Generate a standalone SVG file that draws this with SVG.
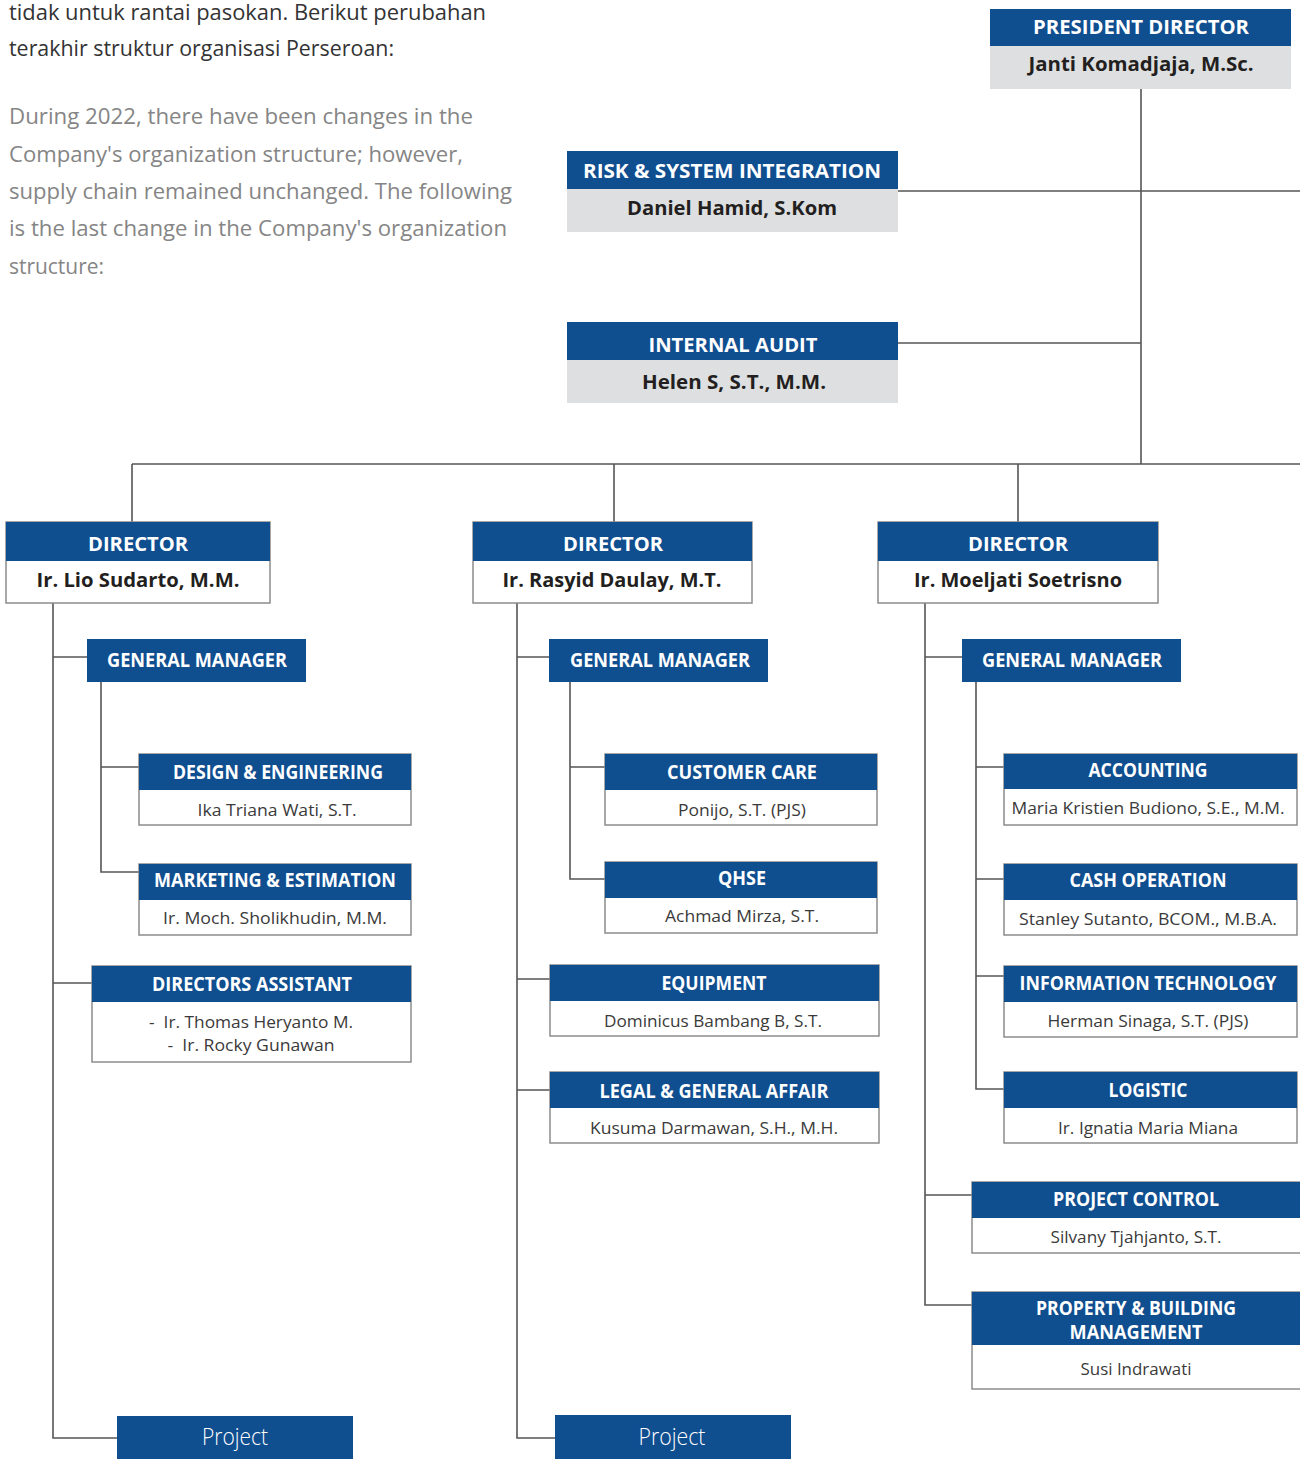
<svg xmlns="http://www.w3.org/2000/svg" width="1300" height="1459" viewBox="0 0 1300 1459">
<style>
.hd{fill:#0f4e8f}
.gb{fill:#dedfe1}
.wb{fill:#fff;stroke:#8c8c8c;stroke-width:1.5}
.ht{font-family:"Open Sans","Liberation Sans",sans-serif;font-weight:700;font-size:19px;fill:#fff;text-anchor:middle}
.nb{font-family:"Open Sans","Liberation Sans",sans-serif;font-weight:700;font-size:20px;fill:#231f20;text-anchor:middle}
.nt{font-family:"Open Sans","Liberation Sans",sans-serif;font-size:17px;fill:#3a3a3a;text-anchor:middle}
.pj{font-family:"Open Sans","Liberation Sans",sans-serif;font-weight:300;font-size:23px;fill:#fff;text-anchor:middle}
.p1{font-family:"Open Sans","Liberation Sans",sans-serif;font-size:22px;fill:#333}
.p2{font-family:"Open Sans","Liberation Sans",sans-serif;font-size:22px;fill:#858585}
.cn{fill:none;stroke:#555;stroke-width:1.6}
</style>
<rect width="1300" height="1459" fill="#fff"/>
<g id="intro">
<text class="p1" x="9" y="20" textLength="477" lengthAdjust="spacingAndGlyphs">tidak untuk rantai pasokan. Berikut perubahan</text>
<text class="p1" x="9" y="56" textLength="385" lengthAdjust="spacingAndGlyphs">terakhir struktur organisasi Perseroan:</text>
<text class="p2" x="9" y="124" textLength="464" lengthAdjust="spacingAndGlyphs">During 2022, there have been changes in the</text>
<text class="p2" x="9" y="162" textLength="454" lengthAdjust="spacingAndGlyphs">Company's organization structure; however,</text>
<text class="p2" x="9" y="199" textLength="503" lengthAdjust="spacingAndGlyphs">supply chain remained unchanged. The following</text>
<text class="p2" x="9" y="236" textLength="498" lengthAdjust="spacingAndGlyphs">is the last change in the Company's organization</text>
<text class="p2" x="9" y="274" textLength="95" lengthAdjust="spacingAndGlyphs">structure:</text>
</g>
<g id="connectors">
<path class="cn" d="M1141 89V464M898 191H1300M898 343H1141M132 464H1300M132 464V522M614 464V522M1018 464V522"/>
<path class="cn" d="M53 603V1438H117M53 657H87M101 682V872H139M101 767H139M53 983H92"/>
<path class="cn" d="M517 603V1438H555M517 657H549M570 682V879H605M570 767H605M517 979H550M517 1090H550"/>
<path class="cn" d="M925 603V1305H972M925 657H962M976 682V1089H1004M976 767H1004M976 879H1004M976 976H1004M925 1195H972"/>
</g>
<g id="president">
<rect class="hd" x="990" y="9" width="301" height="37"/><rect class="gb" x="990" y="46" width="301" height="43"/>
<text class="ht" x="1141" y="34" textLength="216" lengthAdjust="spacingAndGlyphs">PRESIDENT DIRECTOR</text>
<text class="nb" x="1141" y="71" textLength="225" lengthAdjust="spacingAndGlyphs">Janti Komadjaja, M.Sc.</text>
</g>
<g id="risk">
<rect class="hd" x="567" y="151" width="331" height="38"/><rect class="gb" x="567" y="189" width="331" height="43"/>
<text class="ht" x="732" y="178" textLength="298" lengthAdjust="spacingAndGlyphs">RISK &amp; SYSTEM INTEGRATION</text>
<text class="nb" x="732" y="215" textLength="210" lengthAdjust="spacingAndGlyphs">Daniel Hamid, S.Kom</text>
</g>
<g id="audit">
<rect class="hd" x="567" y="322" width="331" height="38"/><rect class="gb" x="567" y="360" width="331" height="43"/>
<text class="ht" x="733" y="352" textLength="169" lengthAdjust="spacingAndGlyphs">INTERNAL AUDIT</text>
<text class="nb" x="734" y="389" textLength="184" lengthAdjust="spacingAndGlyphs">Helen S, S.T., M.M.</text>
</g>
<g id="director1">
<rect class="wb" x="6" y="522" width="264" height="81"/><rect class="hd" x="6" y="522" width="264" height="39"/>
<text class="ht" x="138" y="551" textLength="100" lengthAdjust="spacingAndGlyphs">DIRECTOR</text>
<text class="nb" x="138" y="587" textLength="203" lengthAdjust="spacingAndGlyphs">Ir. Lio Sudarto, M.M.</text>
</g>
<g id="director2">
<rect class="wb" x="473" y="522" width="279" height="81"/><rect class="hd" x="473" y="522" width="279" height="39"/>
<text class="ht" x="613" y="551" textLength="100" lengthAdjust="spacingAndGlyphs">DIRECTOR</text>
<text class="nb" x="612" y="587" textLength="219" lengthAdjust="spacingAndGlyphs">Ir. Rasyid Daulay, M.T.</text>
</g>
<g id="director3">
<rect class="wb" x="878" y="522" width="280" height="81"/><rect class="hd" x="878" y="522" width="280" height="39"/>
<text class="ht" x="1018" y="551" textLength="100" lengthAdjust="spacingAndGlyphs">DIRECTOR</text>
<text class="nb" x="1018" y="587" textLength="208" lengthAdjust="spacingAndGlyphs">Ir. Moeljati Soetrisno</text>
</g>
<g id="gm1"><rect class="hd" x="87" y="639" width="219" height="43"/><text class="ht" x="197" y="667" font-size="18" textLength="180" lengthAdjust="spacingAndGlyphs">GENERAL MANAGER</text></g>
<g id="gm2"><rect class="hd" x="549" y="639" width="219" height="43"/><text class="ht" x="660" y="667" font-size="18" textLength="180" lengthAdjust="spacingAndGlyphs">GENERAL MANAGER</text></g>
<g id="gm3"><rect class="hd" x="962" y="639" width="219" height="43"/><text class="ht" x="1072" y="667" font-size="18" textLength="180" lengthAdjust="spacingAndGlyphs">GENERAL MANAGER</text></g>
<g id="design">
<rect class="wb" x="139" y="754" width="272" height="71"/><rect class="hd" x="139" y="754" width="272" height="36"/>
<text class="ht" x="278" y="779" font-size="18" textLength="210" lengthAdjust="spacingAndGlyphs">DESIGN &amp; ENGINEERING</text>
<text class="nt" x="277" y="816" textLength="159" lengthAdjust="spacingAndGlyphs">Ika Triana Wati, S.T.</text>
</g>
<g id="marketing">
<rect class="wb" x="139" y="864" width="272" height="71"/><rect class="hd" x="139" y="864" width="272" height="36"/>
<text class="ht" x="275" y="887" font-size="18" textLength="242" lengthAdjust="spacingAndGlyphs">MARKETING &amp; ESTIMATION</text>
<text class="nt" x="275" y="924" textLength="224" lengthAdjust="spacingAndGlyphs">Ir. Moch. Sholikhudin, M.M.</text>
</g>
<g id="assistant">
<rect class="wb" x="92" y="966" width="319" height="96"/><rect class="hd" x="92" y="966" width="319" height="36"/>
<text class="ht" x="252" y="991" font-size="18" textLength="200" lengthAdjust="spacingAndGlyphs">DIRECTORS ASSISTANT</text>
<text class="nt" x="251" y="1028" textLength="204" lengthAdjust="spacingAndGlyphs">-&#160; Ir. Thomas Heryanto M.</text>
<text class="nt" x="251" y="1051" textLength="167" lengthAdjust="spacingAndGlyphs">-&#160; Ir. Rocky Gunawan</text>
</g>
<g id="customer">
<rect class="wb" x="605" y="754" width="272" height="71"/><rect class="hd" x="605" y="754" width="272" height="36"/>
<text class="ht" x="742" y="779" font-size="18" textLength="150" lengthAdjust="spacingAndGlyphs">CUSTOMER CARE</text>
<text class="nt" x="742" y="816" textLength="128" lengthAdjust="spacingAndGlyphs">Ponijo, S.T. (PJS)</text>
</g>
<g id="qhse">
<rect class="wb" x="605" y="862" width="272" height="71"/><rect class="hd" x="605" y="862" width="272" height="36"/>
<text class="ht" x="742" y="885" font-size="18" textLength="48" lengthAdjust="spacingAndGlyphs">QHSE</text>
<text class="nt" x="742" y="922" textLength="154" lengthAdjust="spacingAndGlyphs">Achmad Mirza, S.T.</text>
</g>
<g id="equipment">
<rect class="wb" x="550" y="965" width="329" height="71"/><rect class="hd" x="550" y="965" width="329" height="36"/>
<text class="ht" x="714" y="990" font-size="18" textLength="105" lengthAdjust="spacingAndGlyphs">EQUIPMENT</text>
<text class="nt" x="713" y="1027" textLength="218" lengthAdjust="spacingAndGlyphs">Dominicus Bambang B, S.T.</text>
</g>
<g id="legal">
<rect class="wb" x="550" y="1072" width="329" height="71"/><rect class="hd" x="550" y="1072" width="329" height="36"/>
<text class="ht" x="714" y="1098" font-size="18" textLength="229" lengthAdjust="spacingAndGlyphs">LEGAL &amp; GENERAL AFFAIR</text>
<text class="nt" x="714" y="1134" textLength="248" lengthAdjust="spacingAndGlyphs">Kusuma Darmawan, S.H., M.H.</text>
</g>
<g id="accounting">
<rect class="wb" x="1004" y="754" width="293" height="71"/><rect class="hd" x="1004" y="754" width="293" height="35"/>
<text class="ht" x="1148" y="777" font-size="18" textLength="119" lengthAdjust="spacingAndGlyphs">ACCOUNTING</text>
<text class="nt" x="1148" y="814" textLength="273" lengthAdjust="spacingAndGlyphs">Maria Kristien Budiono, S.E., M.M.</text>
</g>
<g id="cash">
<rect class="wb" x="1004" y="864" width="293" height="71"/><rect class="hd" x="1004" y="864" width="293" height="36"/>
<text class="ht" x="1148" y="887" font-size="18" textLength="157" lengthAdjust="spacingAndGlyphs">CASH OPERATION</text>
<text class="nt" x="1148" y="925" textLength="258" lengthAdjust="spacingAndGlyphs">Stanley Sutanto, BCOM., M.B.A.</text>
</g>
<g id="it">
<rect class="wb" x="1004" y="966" width="293" height="71"/><rect class="hd" x="1004" y="966" width="293" height="36"/>
<text class="ht" x="1148" y="990" font-size="18" textLength="257" lengthAdjust="spacingAndGlyphs">INFORMATION TECHNOLOGY</text>
<text class="nt" x="1148" y="1027" textLength="201" lengthAdjust="spacingAndGlyphs">Herman Sinaga, S.T. (PJS)</text>
</g>
<g id="logistic">
<rect class="wb" x="1004" y="1072" width="293" height="71"/><rect class="hd" x="1004" y="1072" width="293" height="36"/>
<text class="ht" x="1148" y="1097" font-size="18" textLength="79" lengthAdjust="spacingAndGlyphs">LOGISTIC</text>
<text class="nt" x="1148" y="1134" textLength="180" lengthAdjust="spacingAndGlyphs">Ir. Ignatia Maria Miana</text>
</g>
<g id="projectcontrol">
<rect class="wb" x="972" y="1182" width="330" height="71"/><rect class="hd" x="972" y="1182" width="330" height="36"/>
<text class="ht" x="1136" y="1206" font-size="18" textLength="166" lengthAdjust="spacingAndGlyphs">PROJECT CONTROL</text>
<text class="nt" x="1136" y="1243" textLength="171" lengthAdjust="spacingAndGlyphs">Silvany Tjahjanto, S.T.</text>
</g>
<g id="property">
<rect class="wb" x="972" y="1292" width="330" height="97"/><rect class="hd" x="972" y="1292" width="330" height="53"/>
<text class="ht" x="1136" y="1315" font-size="16" textLength="200" lengthAdjust="spacingAndGlyphs">PROPERTY &amp; BUILDING</text>
<text class="ht" x="1136" y="1339" font-size="16" textLength="133" lengthAdjust="spacingAndGlyphs">MANAGEMENT</text>
<text class="nt" x="1136" y="1375" textLength="111" lengthAdjust="spacingAndGlyphs">Susi Indrawati</text>
</g>
<g id="project1"><rect class="hd" x="117" y="1416" width="236" height="43"/><text class="pj" x="235" y="1445" textLength="66" lengthAdjust="spacingAndGlyphs">Project</text></g>
<g id="project2"><rect class="hd" x="555" y="1415" width="236" height="44"/><text class="pj" x="672" y="1445" textLength="67" lengthAdjust="spacingAndGlyphs">Project</text></g>
</svg>
